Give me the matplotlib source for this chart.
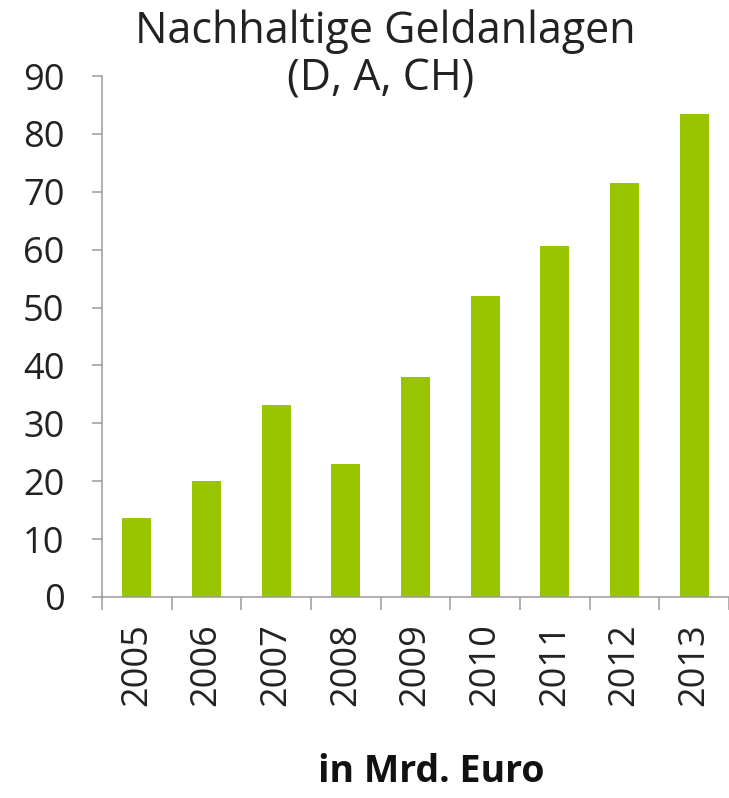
import numpy as np
import matplotlib.pyplot as plt
from matplotlib.ticker import FixedLocator

years = ['2005', '2006', '2007', '2008', '2009', '2010', '2011', '2012', '2013']
values = [13.6, 20.0, 33.2, 23.0, 38.0, 52.0, 60.7, 71.5, 83.5]

plt.rcParams['font.family'] = ['Open Sans', 'DejaVu Sans']

fig = plt.figure(figsize=(7.29, 7.98), dpi=100)
ax = fig.add_axes([102 / 729, 1 - 597 / 798, 627 / 729, (597 - 76) / 798])

x = np.arange(len(years))
ax.bar(x, values, width=0.42, color='#99c400')

ax.set_xlim(-0.5, len(years) - 0.5)
ax.set_ylim(0, 90)
ax.set_yticks(range(0, 91, 10))
ax.set_xticks(x)
ax.set_xticklabels(years, rotation=90)
ax.xaxis.set_minor_locator(FixedLocator(np.arange(-0.5, len(years), 1)))

grey = '#9a9a9a'
for s in ['top', 'right']:
    ax.spines[s].set_visible(False)
for s in ['left', 'bottom']:
    ax.spines[s].set_color(grey)
    ax.spines[s].set_linewidth(1.1)

ax.tick_params(axis='y', length=7, width=1.1, color=grey, pad=20,
               labelsize=26, labelcolor='#222222')
ax.tick_params(axis='x', which='major', length=0, pad=19,
               labelsize=26, labelcolor='#222222')
ax.tick_params(axis='x', which='minor', length=9, width=1.1, color=grey)

fig.text(385 / 729, 1 - 31 / 798, 'Nachhaltige Geldanlagen', ha='center', va='center',
         fontsize=31, color='#222222')
fig.text(381 / 729, 1 - 79 / 798, '(D, A, CH)', ha='center', va='center',
         fontsize=31, color='#222222')
fig.text(431 / 729, 1 - 772 / 798, 'in Mrd. Euro', ha='center', va='center',
         fontsize=27, fontweight='bold', color='#111111')

fig.savefig('out.png', dpi=100)
